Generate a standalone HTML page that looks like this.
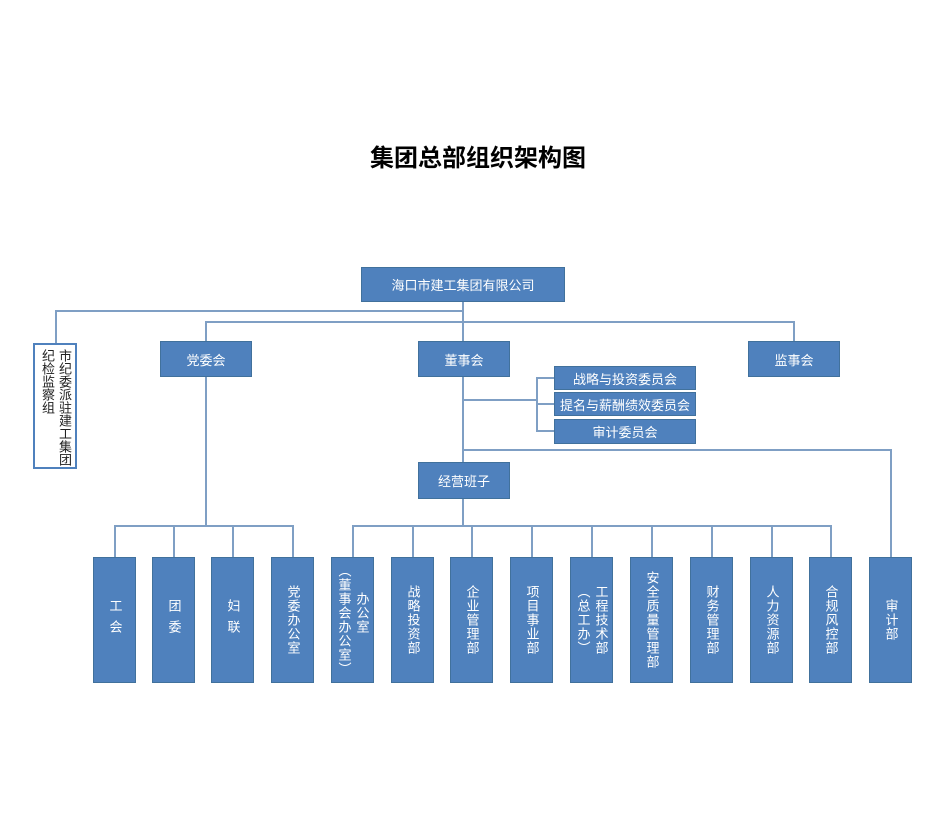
<!DOCTYPE html>
<html><head><meta charset="utf-8"><style>
body{margin:0;background:#fff;width:950px;height:828px;position:relative;overflow:hidden;font-family:"Liberation Sans","Noto Sans CJK SC",sans-serif}
.b{position:absolute;background:#4F81BD;color:#fff;font-size:13px;display:flex;align-items:center;justify-content:center;box-sizing:border-box;border:1px solid #41719c}
.v{writing-mode:vertical-rl;letter-spacing:1px;line-height:16px}
.l{position:absolute;background:#7f9fc4}
</style></head><body>
<div style="position:absolute;left:0;width:956px;top:138px;text-align:center;font-size:24px;font-weight:bold;color:#000">集团总部组织架构图</div>
<!-- lines -->
<div class="l" style="left:462px;top:302px;width:2px;height:160px"></div>
<div class="l" style="left:55px;top:310px;width:408px;height:2px"></div>
<div class="l" style="left:55px;top:310px;width:2px;height:33px"></div>
<div class="l" style="left:206px;top:321px;width:589px;height:2px"></div>
<div class="l" style="left:205px;top:321px;width:2px;height:20px"></div>
<div class="l" style="left:793px;top:321px;width:2px;height:20px"></div>
<div class="l" style="left:205px;top:377px;width:2px;height:150px"></div>
<div class="l" style="left:114px;top:525px;width:180px;height:2px"></div>
<div class="l" style="left:462px;top:499px;width:2px;height:27px"></div>
<div class="l" style="left:352px;top:525px;width:480px;height:2px"></div>
<div class="l" style="left:463px;top:399px;width:74px;height:2px"></div>
<div class="l" style="left:536px;top:377px;width:2px;height:54px"></div>
<div class="l" style="left:536px;top:377px;width:18px;height:2px"></div>
<div class="l" style="left:536px;top:403px;width:18px;height:2px"></div>
<div class="l" style="left:536px;top:430px;width:18px;height:2px"></div>
<div class="l" style="left:463px;top:449px;width:429px;height:2px"></div>
<div class="l" style="left:890px;top:449px;width:2px;height:108px"></div>
<div class="l" style="left:114px;top:525px;width:2px;height:32px"></div>
<div class="l" style="left:173px;top:525px;width:2px;height:32px"></div>
<div class="l" style="left:232px;top:525px;width:2px;height:32px"></div>
<div class="l" style="left:292px;top:525px;width:2px;height:32px"></div>
<div class="l" style="left:352px;top:525px;width:2px;height:32px"></div>
<div class="l" style="left:412px;top:525px;width:2px;height:32px"></div>
<div class="l" style="left:471px;top:525px;width:2px;height:32px"></div>
<div class="l" style="left:531px;top:525px;width:2px;height:32px"></div>
<div class="l" style="left:591px;top:525px;width:2px;height:32px"></div>
<div class="l" style="left:651px;top:525px;width:2px;height:32px"></div>
<div class="l" style="left:711px;top:525px;width:2px;height:32px"></div>
<div class="l" style="left:771px;top:525px;width:2px;height:32px"></div>
<div class="l" style="left:830px;top:525px;width:2px;height:32px"></div>
<!-- boxes -->
<div class="b" style="left:361px;top:267px;width:204px;height:35px">海口市建工集团有限公司</div>
<div style="position:absolute;left:33px;top:343px;width:44px;height:126px;border:2px solid #4F81BD;box-sizing:border-box;background:#fff;color:#222;font-size:13px;padding:4px 2px 0 0;display:flex;justify-content:flex-end"><div style="writing-mode:vertical-rl;line-height:17px">市纪委派驻建工集团<br>纪检监察组</div></div>
<div class="b" style="left:160px;top:341px;width:92px;height:36px">党委会</div>
<div class="b" style="left:418px;top:341px;width:92px;height:36px">董事会</div>
<div class="b" style="left:748px;top:341px;width:92px;height:36px">监事会</div>
<div class="b" style="left:554px;top:366px;width:142px;height:24px">战略与投资委员会</div>
<div class="b" style="left:554px;top:392px;width:142px;height:24px">提名与薪酬绩效委员会</div>
<div class="b" style="left:554px;top:419px;width:142px;height:25px">审计委员会</div>
<div class="b" style="left:418px;top:462px;width:92px;height:37px">经营班子</div>
<div class="b" style="left:93px;top:557px;width:43px;height:126px"><div class="v" style="letter-spacing:8px">工会</div></div>
<div class="b" style="left:152px;top:557px;width:43px;height:126px"><div class="v" style="letter-spacing:8px">团委</div></div>
<div class="b" style="left:211px;top:557px;width:43px;height:126px"><div class="v" style="letter-spacing:8px">妇联</div></div>
<div class="b" style="left:271px;top:557px;width:43px;height:126px"><div class="v">党委办公室</div></div>
<div class="b" style="left:331px;top:557px;width:43px;height:126px"><div class="v" style="line-height:18px">　　办公室<br>（董事会办公室）</div></div>
<div class="b" style="left:391px;top:557px;width:43px;height:126px"><div class="v">战略投资部</div></div>
<div class="b" style="left:450px;top:557px;width:43px;height:126px"><div class="v">企业管理部</div></div>
<div class="b" style="left:510px;top:557px;width:43px;height:126px"><div class="v">项目事业部</div></div>
<div class="b" style="left:570px;top:557px;width:43px;height:126px"><div class="v" style="line-height:18px">工程技术部<br>（总工办）</div></div>
<div class="b" style="left:630px;top:557px;width:43px;height:126px"><div class="v">安全质量管理部</div></div>
<div class="b" style="left:690px;top:557px;width:43px;height:126px"><div class="v">财务管理部</div></div>
<div class="b" style="left:750px;top:557px;width:43px;height:126px"><div class="v">人力资源部</div></div>
<div class="b" style="left:809px;top:557px;width:43px;height:126px"><div class="v">合规风控部</div></div>
<div class="b" style="left:869px;top:557px;width:43px;height:126px"><div class="v">审计部</div></div>
</body></html>
